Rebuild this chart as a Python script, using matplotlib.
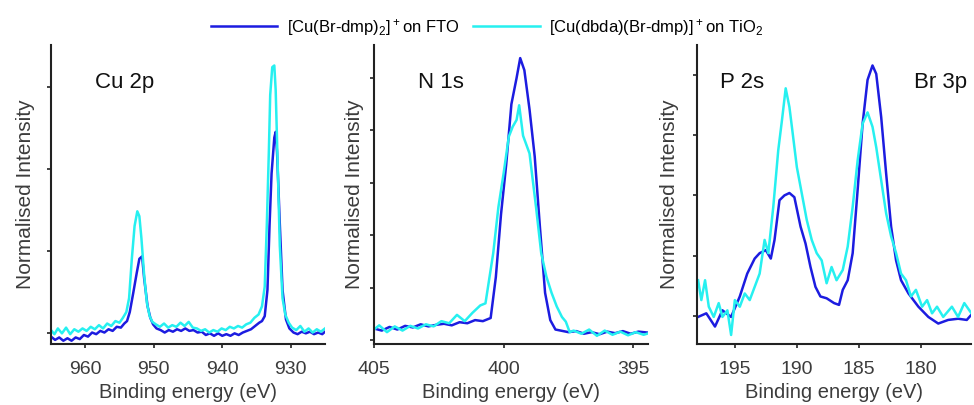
import matplotlib
matplotlib.use('Agg')
from matplotlib import pyplot as plt

plt.rcParams['font.family'] = ['Liberation Sans', 'DejaVu Sans']
plt.rcParams['mathtext.fontset'] = 'custom'
plt.rcParams['mathtext.rm'] = 'Liberation Sans'
plt.rcParams['mathtext.default'] = 'regular'

BLUE = '#1c1ce0'
CYAN = '#26f0f0'
GREY = '#3c3c3c'

label_fto = r'[Cu(Br-dmp)$_2$]$^+$on FTO'
label_tio = r'[Cu(dbda)(Br-dmp)]$^+$on TiO$_2$'

# ---- Cu 2p ----
cu_blue_x = [965.0, 964.4, 963.8, 963.2, 962.6, 962.0, 961.4, 960.8, 960.2, 959.6,
             959.0, 958.4, 957.8, 957.2, 956.6, 956.0, 955.4, 954.8, 954.3, 953.9,
             953.5, 953.0, 952.5, 952.1, 951.7, 951.4, 950.9, 950.5, 950.1, 949.6,
             949.0, 948.4, 947.8, 947.2, 946.6, 946.0, 945.4, 944.8, 944.2, 943.6,
             943.0, 942.4, 941.8, 941.2, 940.6, 940.0, 939.4, 938.8, 938.2, 937.6,
             937.0, 936.4, 935.8, 935.2, 934.6, 934.2, 933.8, 933.4, 933.1, 932.8,
             932.4, 932.2, 932.0, 931.6, 931.2, 930.7, 930.2, 929.6, 929.0, 928.4,
             927.8, 927.2, 926.6, 926.0, 925.4, 925.0]
cu_blue_y = [-0.05, -0.09, -0.06, -0.10, -0.07, -0.10, -0.06, -0.08, -0.03, -0.05,
             0.0, -0.02, 0.02, 0.0, 0.04, 0.02, 0.07, 0.06, 0.11, 0.14,
             0.25, 0.48, 0.72, 0.90, 0.93, 0.66, 0.32, 0.18, 0.10, 0.05,
             0.03, 0.0, 0.03, 0.01, 0.04, 0.02, 0.05, 0.02, 0.03, 0.0,
             0.01, -0.03, -0.01, -0.04, -0.01, -0.04, -0.02, -0.04, -0.01, -0.03,
             0.0, 0.02, 0.04, 0.08, 0.12, 0.14, 0.2, 0.52, 1.30, 1.94,
             2.38, 2.45, 2.20, 1.33, 0.52, 0.16, 0.05, 0.0, -0.02, 0.01,
             -0.01, 0.01, -0.02, 0.0, -0.02, 0.01]
cu_cyan_x = [965.0, 964.5, 964.0, 963.4, 962.8, 962.2, 961.6, 961.0, 960.4, 959.8,
             959.2, 958.6, 958.0, 957.4, 956.8, 956.2, 955.6, 955.0, 954.5, 954.0,
             953.6, 953.2, 952.8, 952.4, 952.1, 951.8, 951.4, 951.0, 950.6, 950.2,
             949.7, 949.1, 948.5, 947.9, 947.3, 946.7, 946.1, 945.5, 944.9, 944.3,
             943.7, 943.1, 942.5, 941.9, 941.3, 940.7, 940.1, 939.5, 938.9, 938.3,
             937.7, 937.1, 936.5, 935.9, 935.3, 934.7, 934.2, 933.8, 933.5, 933.2,
             933.0, 932.7, 932.4, 932.2, 931.9, 931.6, 931.2, 930.8, 930.3, 929.8,
             929.2, 928.6, 928.0, 927.4, 926.8, 926.2, 925.6, 925.0]
cu_cyan_y = [0.03, -0.02, 0.05, -0.01, 0.06, -0.02, 0.04, 0.01, 0.05, 0.02,
             0.07, 0.04, 0.09, 0.05, 0.11, 0.08, 0.14, 0.12, 0.18, 0.25,
             0.42, 0.90, 1.30, 1.48, 1.42, 1.15, 0.70, 0.36, 0.20, 0.13,
             0.10, 0.07, 0.11, 0.06, 0.09, 0.07, 0.12, 0.08, 0.13, 0.06,
             0.05, 0.02, 0.04, 0.0, 0.03, 0.01, 0.05, 0.03, 0.07, 0.05,
             0.08, 0.06, 0.10, 0.12, 0.18, 0.22, 0.32, 0.56, 1.30, 2.20,
             2.90, 3.24, 3.26, 2.96, 2.03, 1.06, 0.42, 0.22, 0.12, 0.06,
             0.03, 0.08, 0.01, 0.05, 0.0, 0.04, 0.01, 0.05]

# ---- N 1s ----
n_blue_x = [405.0, 404.7, 404.4, 404.1, 403.8, 403.5, 403.2, 402.9, 402.6, 402.3,
            402.0, 401.7, 401.4, 401.1, 400.8, 400.5, 400.3, 400.1, 399.9, 399.7,
            399.5, 399.36, 399.2, 399.0, 398.8, 398.6, 398.4, 398.2, 398.0, 397.8,
            397.5, 397.2, 396.9, 396.6, 396.3, 396.0, 395.7, 395.4, 395.1, 394.8,
            394.4]
n_blue_y = [0.22, 0.18, 0.25, 0.20, 0.27, 0.24, 0.30, 0.26, 0.29, 0.31,
            0.28, 0.34, 0.32, 0.38, 0.36, 0.42, 1.2, 2.4, 3.35, 4.5,
            5.0, 5.38, 5.15, 4.4, 3.5, 2.16, 0.9, 0.38, 0.2, 0.18,
            0.15, 0.17, 0.12, 0.15, 0.11, 0.16, 0.13, 0.17, 0.12, 0.16,
            0.14]
n_cyan_x = [405.0, 404.8, 404.5, 404.2, 403.9, 403.6, 403.3, 403.0, 402.7, 402.4,
            402.1, 401.8, 401.5, 401.2, 400.9, 400.7, 400.4, 400.2, 400.0, 399.8,
            399.65, 399.5, 399.4, 399.25, 399.0, 398.75, 398.55, 398.35, 398.15, 397.95,
            397.75, 397.6, 397.45, 397.3, 397.0, 396.7, 396.4, 396.1, 395.8, 395.5,
            395.2, 394.9, 394.6, 394.4]
n_cyan_y = [0.20, 0.28, 0.15, 0.26, 0.18, 0.27, 0.22, 0.30, 0.26, 0.36,
            0.32, 0.48, 0.36, 0.52, 0.66, 0.70, 1.66, 2.54, 3.18, 3.88,
            4.07, 4.20, 4.48, 3.90, 3.56, 2.54, 1.66, 1.21, 0.90, 0.64,
            0.44, 0.35, 0.15, 0.18, 0.12, 0.20, 0.08, 0.18, 0.10, 0.16,
            0.09, 0.15, 0.10, 0.13]

# ---- P 2s / Br 3p ----
pbr_blue_x = [197.96, 197.3, 196.6, 196.0, 195.3, 194.6, 194.0, 193.4, 193.0, 192.5,
              192.1, 191.8, 191.4, 191.0, 190.6, 190.2, 189.7, 189.3, 188.9, 188.5,
              188.1, 187.6, 187.0, 186.6, 186.3, 185.9, 185.5, 185.1, 184.7, 184.3,
              183.9, 183.6, 183.2, 182.8, 182.4, 182.0, 181.6, 181.0, 180.2, 179.4,
              178.6, 177.8, 177.0, 176.3, 175.96]
pbr_blue_y = [-0.02, 0.04, -0.18, 0.09, -0.02, 0.32, 0.70, 0.95, 1.04, 1.09,
              0.95, 1.26, 1.92, 2.00, 2.04, 1.97, 1.48, 1.20, 0.81, 0.48,
              0.32, 0.29, 0.21, 0.18, 0.43, 0.59, 1.04, 2.09, 3.19, 3.92,
              4.16, 4.02, 3.30, 2.36, 1.48, 0.92, 0.59, 0.37, 0.15, -0.02,
              -0.13, -0.07, -0.05, -0.07, 0.01]
pbr_cyan_x = [197.96, 197.7, 197.4, 197.1, 196.7, 196.3, 196.0, 195.6, 195.3, 195.0,
              194.6, 194.2, 193.8, 193.4, 193.0, 192.6, 192.3, 191.9, 191.5, 191.2,
              190.9, 190.6, 190.4, 190.0, 189.6, 189.2, 188.8, 188.4, 188.0, 187.6,
              187.2, 186.8, 186.3, 185.9, 185.5, 185.1, 184.7, 184.3, 183.9, 183.6,
              183.2, 182.8, 182.4, 182.0, 181.6, 181.2, 180.8, 180.4, 179.9, 179.5,
              179.1, 178.7, 178.2, 177.5, 177.0, 176.5, 175.96]
pbr_cyan_y = [0.59, 0.26, 0.59, 0.15, -0.02, 0.21, -0.02, 0.09, -0.32, 0.26,
              0.15, 0.37, 0.26, 0.48, 0.70, 1.26, 1.04, 1.81, 2.75, 3.25,
              3.78, 3.47, 3.14, 2.47, 2.03, 1.59, 1.26, 1.04, 0.92, 0.54,
              0.81, 0.59, 0.76, 1.15, 1.81, 2.58, 3.19, 3.38, 3.14, 2.80,
              2.25, 1.70, 1.32, 1.04, 0.70, 0.59, 0.32, 0.43, 0.15, 0.26,
              0.04, 0.15, -0.02, 0.15, -0.02, 0.21, 0.05]

panels = [
    dict(left=51, xlim=(965, 925), xticks=[960, 950, 940, 930], ylim=(-0.14, 3.51),
         yticks=[0, 1, 2, 3], blue=(cu_blue_x, cu_blue_y), cyan=(cu_cyan_x, cu_cyan_y),
         ylab_x=-0.06, names=[('Cu 2p', 0.16, 'left')]),
    dict(left=374, xlim=(405, 394.43), xticks=[405, 400, 395], ylim=(-0.076, 5.63),
         yticks=[0, 1, 2, 3, 4, 5], blue=(n_blue_x, n_blue_y), cyan=(n_cyan_x, n_cyan_y),
         ylab_x=-0.035, names=[('N 1s', 0.16, 'left')]),
    dict(left=697, xlim=(198.05, 175.96), xticks=[195, 190, 185, 180], ylim=(-0.47, 4.5),
         yticks=[0, 1, 2, 3, 4], blue=(pbr_blue_x, pbr_blue_y), cyan=(pbr_cyan_x, pbr_cyan_y),
         ylab_x=-0.065, names=[('P 2s', 0.084, 'left'), ('Br 3p', 0.985, 'right')]),
]

W, H = 974, 405
fig = plt.figure(figsize=(W / 100, H / 100), dpi=100)

for p in panels:
    ax = fig.add_axes([p['left'] / W, (H - 344) / H, 274 / W, 299 / H])
    l1, = ax.plot(*p['blue'], color=BLUE, lw=1.8, label=label_fto)
    l2, = ax.plot(*p['cyan'], color=CYAN, lw=1.8, label=label_tio)
    ax.set_xlim(*p['xlim'])
    ax.set_ylim(*p['ylim'])
    ax.set_xticks(p['xticks'])
    ax.set_yticks(p['yticks'])
    ax.set_yticklabels([])
    for s in ['top', 'right']:
        ax.spines[s].set_visible(False)
    for s in ['left', 'bottom']:
        ax.spines[s].set_linewidth(1.5)
        ax.spines[s].set_color('#222222')
    ax.tick_params(direction='out', length=3, width=1.2, color='#222222',
                   labelsize=14, labelcolor=GREY, pad=9)
    ax.set_xlabel('Binding energy (eV)', fontsize=14.5, color=GREY, labelpad=4)
    ax.set_ylabel('Normalised Intensity', fontsize=15, color=GREY)
    ax.yaxis.set_label_coords(p['ylab_x'], 0.5)
    for name, xf, ha in p['names']:
        ax.text(xf, 0.873, name, transform=ax.transAxes, fontsize=16, ha=ha,
                va='center', color='#111111')

fig.legend([l1, l2], [label_fto, label_tio], loc='center', bbox_to_anchor=(0.5, 1 - 27 / H),
           ncol=2, frameon=False, fontsize=12, handlelength=4.0, columnspacing=0.85,
           handletextpad=0.55)

fig.savefig('out.png', dpi=100)
